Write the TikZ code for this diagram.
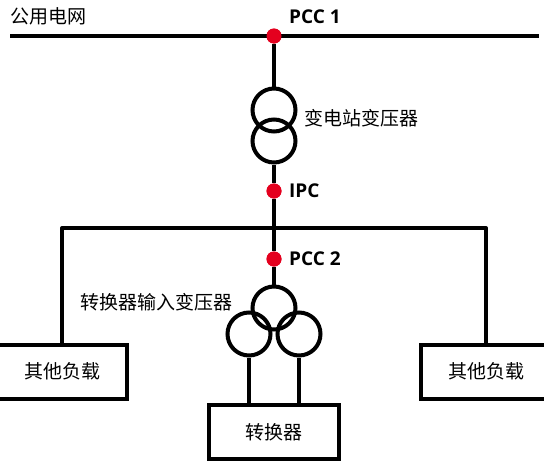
\documentclass[tikz,border=0pt]{standalone}
\usepackage{fontspec}
\setmainfont{Open Sans}
\newfontfamily\cjk{Noto Sans CJK SC}
\tikzset{
  wire/.style={line width=4pt,black},
  winding/.style={circle,draw=black,line width=4pt,minimum size=43pt,inner sep=0pt,fill=none},
  junction/.style={circle,fill=myred,draw=none,minimum size=15pt,inner sep=0pt},
  loadbox/.style={rectangle,draw=black,line width=4pt,minimum width=130pt,minimum height=54pt,inner sep=0pt,font=\cjk\fontsize{19}{22}\selectfont},
  cjklabel/.style={inner sep=0pt,anchor=west,font=\cjk\fontsize{19}{22}\selectfont},
  boldlabel/.style={inner sep=0pt,anchor=west,font=\bfseries\fontsize{19}{22}\selectfont}
}
\definecolor{myred}{HTML}{E4001E}
\begin{document}
\begin{tikzpicture}[x=1pt,y=-1pt]
\useasboundingbox (0,0) rectangle (544,461);
\clip (0,0) rectangle (544,461);
\coordinate (gridL) at (10,36);
\coordinate (gridR) at (539,36);
\coordinate (busL) at (62,228);
\coordinate (busR) at (486,228);
\node[junction] (pcc1pt) at (274,36) {};
\node[junction] (ipcpt) at (274,191) {};
\node[junction] (pcc2pt) at (274,259) {};
\coordinate (busM) at (274,228);
\node[winding] (t1a) at (274,110) {};
\node[winding] (t1b) at (274,141) {};
\node[winding] (t2a) at (274,308) {};
\node[winding] (t2b) at (249,334) {};
\node[winding] (t2c) at (299,334) {};
\node[loadbox] (loadL) at (62,371.5) {\raisebox{2pt}{其他负载}};
\node[loadbox] (loadR) at (486,371.5) {\raisebox{2pt}{其他负载}};
\node[loadbox,minimum width=130pt] (conv) at (274,432) {\raisebox{1.5pt}{转换器}};
\draw[wire] (gridL) -- (gridR);
\draw[wire] (pcc1pt) -- (t1a);
\draw[wire] (t1b) -- (ipcpt);
\draw[wire] (ipcpt) -- (busM);
\draw[wire] (busM) -- (pcc2pt);
\draw[wire] (pcc2pt) -- (t2a);
\draw[wire,line join=round] (loadL.north -| busL) -- (busL) -- (busR) -- (loadR.north -| busR);
\draw[wire] (t2b.south) -- (t2b.south |- conv.north);
\draw[wire] (t2c.south) -- (t2c.south |- conv.north);
\node[junction] at (pcc1pt) {};
\node[junction] at (ipcpt) {};
\node[junction] at (pcc2pt) {};
\node[cjklabel] (grid) at (10,16) {公用电网};
\node[cjklabel] (t1label) at (304,118) {变电站变压器};
\node[cjklabel] (t2label) at (80,302) {转换器输入变压器};
\node[boldlabel] (pcc1) at (289,17) {PCC\hspace{5pt}1};
\node[boldlabel] (ipc) at (289,191) {IPC};
\node[boldlabel] (pcc2) at (289,259) {PCC\hspace{5pt}2};
\end{tikzpicture}
\end{document}
